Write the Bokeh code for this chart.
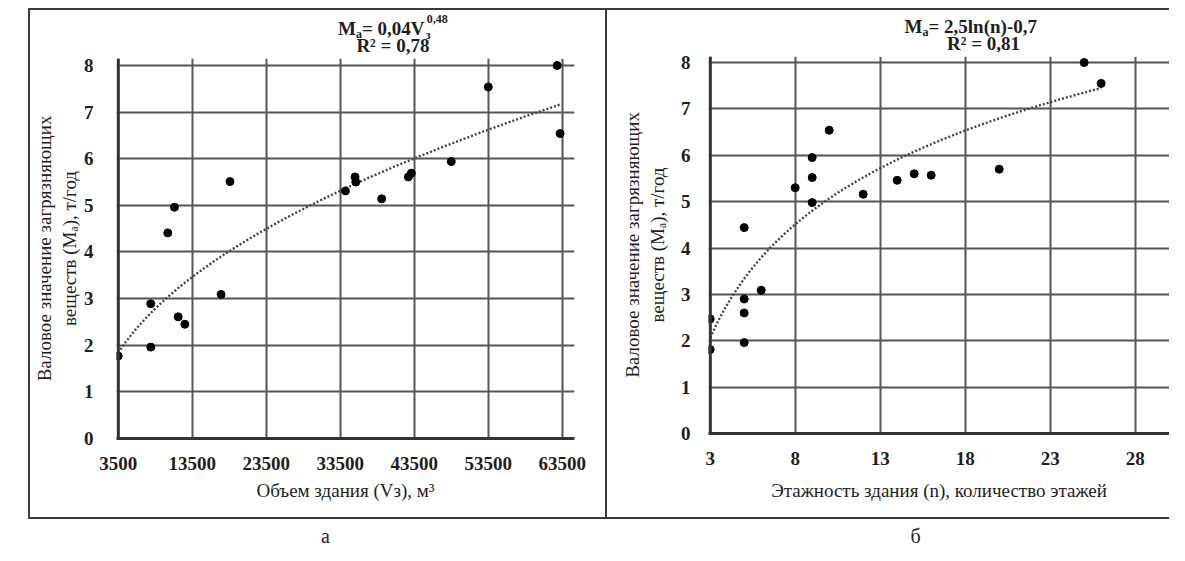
import numpy as np
from bokeh.plotting import figure
from bokeh.models import Range1d, FixedTicker, Span, Spacer
from bokeh.layouts import row, column
from bokeh.embed import file_html
from bokeh.resources import INLINE

# ---------------- data ----------------
volume = [3500, 7900, 7900, 10200, 11100, 11600, 12500, 17400, 18600, 34200,
          35500, 35600, 39100, 42700, 43100, 48500, 53500, 62800, 63200]
m_volume = [1.77, 1.96, 2.89, 4.41, 4.96, 2.61, 2.45, 3.09, 5.51, 5.31,
            5.61, 5.50, 5.14, 5.61, 5.69, 5.94, 7.54, 8.00, 6.54]

floors = [3, 3, 5, 5, 5, 5, 6, 8, 9, 9, 9, 10, 12, 14, 15, 16, 20, 25, 26]
m_floors = [2.47, 1.81, 4.44, 2.90, 2.60, 1.96, 3.09, 5.30, 5.95, 5.52,
            4.98, 6.54, 5.16, 5.46, 5.60, 5.57, 5.70, 8.00, 7.55]

x_ticks_a = [3500, 13500, 23500, 33500, 43500, 53500, 63500]
x_ticks_b = [3, 8, 13, 18, 23, 28]
y_ticks = [0, 1, 2, 3, 4, 5, 6, 7, 8]

x_title_a = "Объем здания (Vз), м³"
x_title_b = "Этажность здания (n), количество этажей"
y_title = "Валовое значение загрязняющих\nвеществ (Mₐ), т/год"
eq_a = ["M", "a", "= 0,04V", "з", "0,48"]
eq_b = ["M", "a", "= 2,5ln(n)-0,7"]
r2_a = "R² = 0,78"
r2_b = "R² = 0,81"
captions = ["а", "б"]

# trendlines fitted from the points (power and logarithmic)
pw_b, pw_loga = np.polyfit(np.log(volume), np.log(m_volume), 1)
tv = np.linspace(min(volume), max(volume), 200)
tm_v = np.exp(pw_loga) * tv ** pw_b
ln_a, ln_b = np.polyfit(np.log(floors), m_floors, 1)
tn = np.linspace(min(floors), max(floors), 200)
tm_n = ln_a * np.log(tn) + ln_b

FONT = "Liberation Serif"
GRID = "#555555"
AX = "#333333"
TXT = "#1e1e1e"


def style(p, xt):
    p.xaxis.ticker = FixedTicker(ticks=xt)
    p.yaxis.ticker = FixedTicker(ticks=y_ticks)
    for ax in (p.xaxis, p.yaxis):
        ax.major_tick_line_color = None
        ax.minor_tick_line_color = None
        ax.major_label_text_font = FONT
        ax.major_label_text_font_style = "bold"
        ax.major_label_text_font_size = "19px"
        ax.major_label_text_color = TXT
        ax.axis_label_text_font = FONT
        ax.axis_label_text_font_style = "normal"
        ax.axis_label_text_font_size = "19px"
        ax.axis_label_text_color = TXT
    p.xaxis.axis_line_color = AX
    p.xaxis.axis_line_width = 3
    p.yaxis.axis_line_color = None
    p.xgrid.grid_line_color = GRID
    p.ygrid.grid_line_color = GRID
    p.xgrid.grid_line_width = 2
    p.ygrid.grid_line_width = 2
    p.outline_line_color = None
    p.background_fill_color = "white"
    p.border_fill_color = "white"


def text_fig(w, h, left=0, right=0):
    # x range in canvas pixels: the frame spans [left, w - right]
    f = figure(width=w, height=h, output_backend="svg", toolbar_location=None,
               x_range=Range1d(left, w - right), y_range=Range1d(h, 0),
               x_axis_location=None, y_axis_location=None, title=None,
               min_border=0, min_border_left=left, min_border_right=right,
               min_border_top=0, min_border_bottom=0)
    f.grid.visible = False
    f.outline_line_color = None
    f.background_fill_color = "white"
    f.border_fill_color = "white"
    return f


def put(f, x, y, txt, size, align="left", style_="bold"):
    f.text(x=[x], y=[y], text=[txt], text_font=FONT, text_font_style=style_,
           text_font_size=size, text_color=TXT, text_align=align, text_baseline="middle")


TS, SS = "19px", "12px"

# ---------------- panel а ----------------
ta = text_fig(575, 45, left=85, right=31)
x0 = 307
put(ta, x0, 18, eq_a[0], TS)
put(ta, x0 + 18, 23, eq_a[1], SS)
put(ta, x0 + 24, 18, eq_a[2], TS)
put(ta, x0 + 88, 24, eq_a[3], SS)
put(ta, x0 + 89, 8, eq_a[4], SS)
put(ta, 362, 35, r2_a, TS, align="center")

pa = figure(width=575, height=462, output_backend="svg", toolbar_location=None, title=None,
            x_range=Range1d(3270, 65146), y_range=Range1d(0, 8.15),
            min_border_left=85, min_border_right=31, min_border_top=3, min_border_bottom=79)
style(pa, x_ticks_a)
pa.xaxis.axis_label = x_title_a
pa.yaxis.axis_label = y_title
pa.xaxis.major_label_standoff = 12
pa.xaxis.axis_label_standoff = 7
pa.yaxis.major_label_standoff = 17
pa.yaxis.axis_label_standoff = 1
pa.add_layout(Span(location=3500, dimension="height", line_color=AX, line_width=3))
pa.line(tv, tm_v, line_color="#444444", line_width=2.4, line_dash="2 2")
pa.scatter(volume, m_volume, size=8, color="black")

# ---------------- panel б ----------------
tb = text_fig(562, 42, left=101, right=0)
x1 = 297
put(tb, x1, 16, eq_b[0], TS)
put(tb, x1 + 18, 21, eq_b[1], SS)
put(tb, x1 + 24, 16, eq_b[2], TS)
put(tb, 376, 32.5, r2_b, TS, align="center")

pb = figure(width=562, height=465, output_backend="svg", toolbar_location=None, title=None,
            x_range=Range1d(2.9, 30.02), y_range=Range1d(0, 8.13),
            min_border_left=101, min_border_right=0, min_border_top=4, min_border_bottom=84)
style(pb, x_ticks_b)
pb.xaxis.axis_label = x_title_b
pb.yaxis.axis_label = y_title
pb.xaxis.major_label_standoff = 12
pb.xaxis.axis_label_standoff = 12
pb.yaxis.major_label_standoff = 12
pb.yaxis.axis_label_standoff = 10
pb.add_layout(Span(location=3, dimension="height", line_color=AX, line_width=3))
pb.line(tn, tm_n, line_color="#444444", line_width=2.4, line_dash="2 2")
pb.scatter(floors, m_floors, size=8, color="black")

# ---------------- captions ----------------
pc = text_fig(1169, 26)
put(pc, 325, 16, captions[0], "20px", align="center", style_="normal")
put(pc, 915, 16, captions[1], "20px", align="center", style_="normal")

LINE = "#3c3c3c"


def bar(w, h):
    return Spacer(width=w, height=h, margin=0, styles={"background-color": LINE})


frame = column(bar(1141, 2),
               row(bar(2, 507), column(ta, pa, spacing=0), bar(2, 507),
                   column(tb, pb, spacing=0), spacing=0),
               bar(1141, 2), spacing=0)
layout = column(Spacer(width=1169, height=8, margin=0),
                row(Spacer(width=28, height=511, margin=0), frame, spacing=0),
                pc, spacing=0)

open("out.html", "w").write(file_html(layout, INLINE))
